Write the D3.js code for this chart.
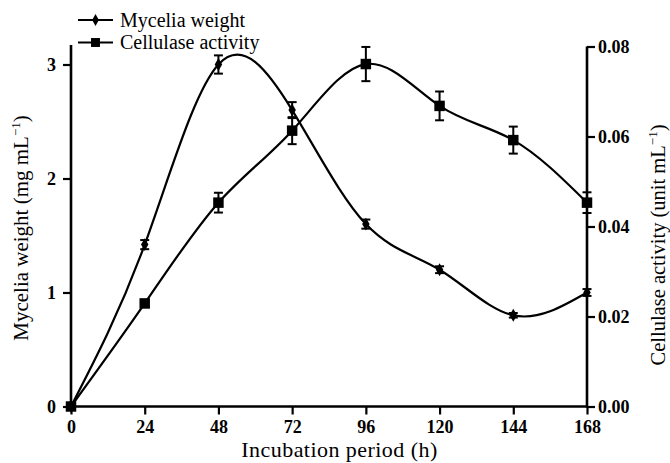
<!DOCTYPE html>
<html><head><meta charset="utf-8">
<script src="https://cdn.jsdelivr.net/npm/d3@7/dist/d3.min.js"></script>
<style>html,body{margin:0;padding:0;background:#fff;}svg{display:block;}
svg text{font-family:"Liberation Serif","Times New Roman",Times,"Nimbus Roman","DejaVu Serif",serif;}</style>
</head><body>
<svg id="chart" width="670" height="463"></svg>
<script>
const hours = [0, 24, 48, 72, 96, 120, 144, 168];
const myceliaWeight = [0, 1.42, 3.0, 2.6, 1.6, 1.2, 0.8, 1.0];
const myceliaErr = [0, 0.04, 0.08, 0.07, 0.04, 0.03, 0.02, 0.03];
const cellulaseActivity = [0, 0.0229, 0.0453, 0.0613, 0.0761, 0.0668, 0.0592, 0.0453];
const cellulaseErr = [0, 0.0008, 0.0022, 0.003, 0.0038, 0.0032, 0.003, 0.0023];
const xTicks = [0, 24, 48, 72, 96, 120, 144, 168];
const leftTicks = [0, 1, 2, 3];
const rightTicks = [0, 0.02, 0.04, 0.06, 0.08];

const svg = d3.select("#chart");
const L = 71, R = 587, B = 406.5, T = 46.5;

const x = d3.scaleLinear().domain([0, 168]).range([L, R]);
const yR = d3.scaleLinear().domain([0, 0.08]).range([B, T]);
// left axis: 0 -> 406.5, 3 -> 64.5
const yL = d3.scaleLinear().domain([0, 3 * (B - T) / (B - 64.5)]).range([B, T]);

function styleAxis(g) {
  g.selectAll("path").attr("stroke", "#000").attr("stroke-width", 2.6);
  g.selectAll("line").attr("stroke", "#000").attr("stroke-width", 2.2);
  g.selectAll("text").attr("font-size", 18).attr("font-weight", "bold").attr("fill", "#000");
}

const gx = svg.append("g").attr("transform", `translate(0,${B})`)
  .call(d3.axisBottom(x).tickValues(xTicks).tickSize(8).tickSizeOuter(0).tickPadding(6));
styleAxis(gx);
gx.select("path").attr("d", `M${L - 2},0H${R + 1}`);

const gl = svg.append("g").attr("transform", `translate(${L},0)`)
  .call(d3.axisLeft(yL).tickValues(leftTicks).tickSize(8).tickSizeOuter(0).tickPadding(7).tickFormat(d3.format("d")));
styleAxis(gl);
gl.select("path").attr("d", `M0,${T - 1.5}V${B + 1}`);

const gr = svg.append("g").attr("transform", `translate(${R},0)`)
  .call(d3.axisRight(yR).tickValues(rightTicks).tickSize(8).tickSizeOuter(0).tickPadding(3).tickFormat(d3.format(".2f")));
styleAxis(gr);
gr.select("path").attr("d", `M0,${T}V${B + 1}`);

const curve = d3.curveNatural;
const myc = hours.map((h, i) => ({h, v: myceliaWeight[i], e: myceliaErr[i]}));
const cel = hours.map((h, i) => ({h, v: cellulaseActivity[i], e: cellulaseErr[i]}));

svg.append("path").datum(myc)
  .attr("d", d3.line().x(d => x(d.h)).y(d => yL(d.v)).curve(curve))
  .attr("fill", "none").attr("stroke", "#000").attr("stroke-width", 2.2);
svg.append("path").datum(cel)
  .attr("d", d3.line().x(d => x(d.h)).y(d => yR(d.v)).curve(curve))
  .attr("fill", "none").attr("stroke", "#000").attr("stroke-width", 2.2);

function errBars(data, y) {
  const g = svg.append("g").attr("stroke", "#000").attr("stroke-width", 2);
  data.filter(d => d.e > 0).forEach(d => {
    const y1 = y(d.v + d.e), y2 = y(d.v - d.e), cx = x(d.h);
    g.append("line").attr("x1", cx).attr("x2", cx).attr("y1", y1).attr("y2", y2);
    g.append("line").attr("x1", cx - 4.5).attr("x2", cx + 4.5).attr("y1", y1).attr("y2", y1);
    g.append("line").attr("x1", cx - 4.5).attr("x2", cx + 4.5).attr("y1", y2).attr("y2", y2);
  });
}
errBars(myc, yL);
errBars(cel, yR);

const diamond = d3.symbol().type(d3.symbolDiamond).size(48);
const square = d3.symbol().type(d3.symbolSquare).size(110);

svg.append("g").selectAll("path").data(myc).join("path")
  .attr("transform", d => `translate(${x(d.h)},${yL(d.v)})`).attr("d", diamond).attr("fill", "#000");
svg.append("g").selectAll("path").data(cel).join("path")
  .attr("transform", d => `translate(${x(d.h)},${yR(d.v)})`).attr("d", square).attr("fill", "#000");

// legend
const legendLabels = ["Mycelia weight", "Cellulase activity"];
const legendSymbols = [d3.symbol().type(d3.symbolDiamond).size(40), d3.symbol().type(d3.symbolSquare).size(80)];
const legendY = [20, 42.5];
legendLabels.forEach((label, i) => {
  const ly = legendY[i];
  svg.append("line").attr("x1", 78).attr("x2", 113).attr("y1", ly).attr("y2", ly)
    .attr("stroke", "#000").attr("stroke-width", 2.2);
  svg.append("path").attr("transform", `translate(95.5,${ly})`).attr("d", legendSymbols[i]()).attr("fill", "#000");
  svg.append("text").attr("x", 120).attr("y", ly + 6.5)
    .attr("font-size", 20).attr("fill", "#000").text(label);
});

// axis titles
svg.append("text").attr("x", 339.5).attr("y", 457).attr("text-anchor", "middle")
  .attr("font-size", 22).attr("letter-spacing", 0.45).attr("fill", "#000").text("Incubation period (h)");

function yTitle(tx, ty, main, size) {
  const t = svg.append("text").attr("transform", `translate(${tx},${ty}) rotate(-90)`)
    .attr("text-anchor", "middle").attr("font-size", size).attr("fill", "#000");
  t.append("tspan").text(main);
  t.append("tspan").attr("font-size", 13).attr("dy", -8).text("−1");
  t.append("tspan").attr("dy", 8).text(")");
}
yTitle(28, 228, "Mycelia weight (mg mL", 21);
yTitle(665, 245, "Cellulase activity (unit mL", 20.5);
</script>
</body></html>
